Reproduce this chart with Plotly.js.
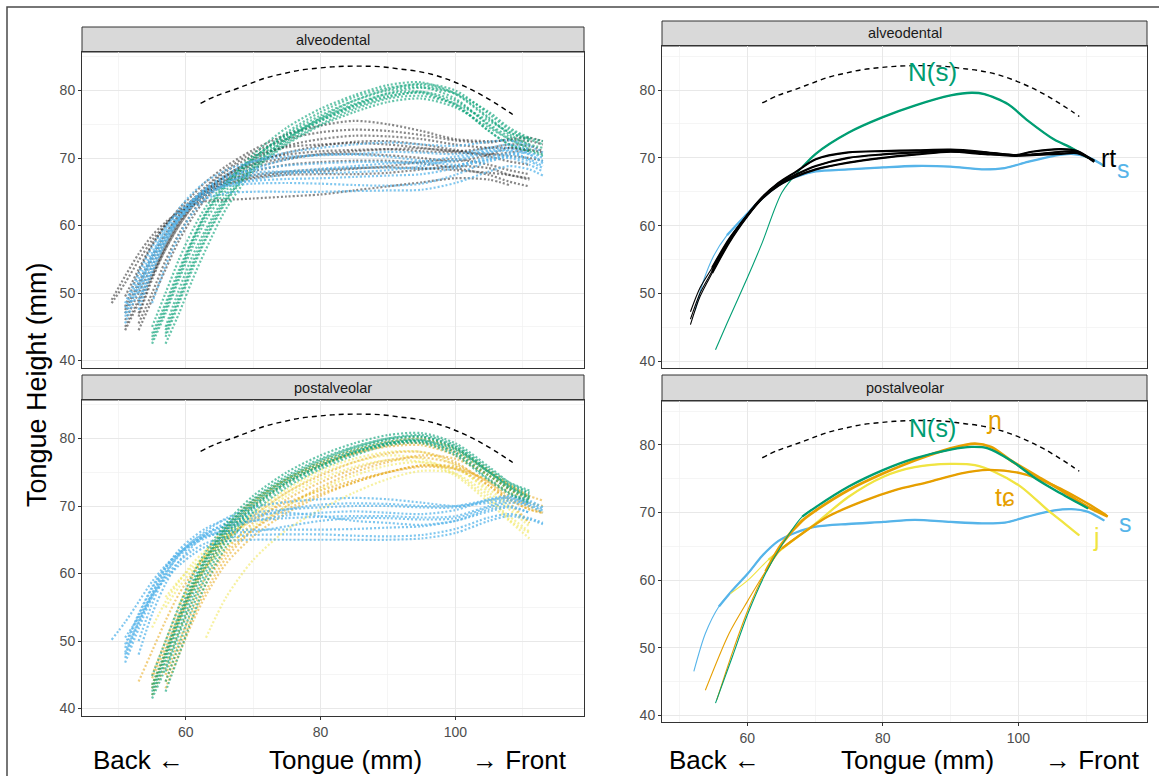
<!DOCTYPE html>
<html>
<head>
<meta charset="utf-8">
<script src="https://cdn.plot.ly/plotly-3.0.1.min.js"></script>
<style>html,body{margin:0;padding:0;background:#fff;}#chart{width:1159px;height:776px;}</style>
</head>
<body>
<div id="chart"></div>
<script>
// ---------- DATA ----------
// shared x grid (mm) for the individual token curves (left panels)
const X_TOK = [49, 51, 53, 55, 57, 59, 61, 63, 66, 70, 75, 80, 85, 90, 95, 100, 105, 108, 111, 113];

// alveodental tokens: rt (black)
const AD_RT_TOK = [
  [49.0, 52.5, 55.8, 58.5, 60.5, 62.0, 63.0, 63.6, 63.8, 64.0, 64.3, 64.6, 65.2, 65.8, 66.4, 67.0, 66.8, 66.0, null, null],
  [null, 47.5, 51.5, 55.5, 58.8, 61.5, 63.5, 65.0, 66.5, 67.5, 68.0, 68.3, 68.5, 68.6, 68.5, 68.2, 67.8, 67.5, 66.8, null],
  [null, 44.5, 48.5, 52.5, 56.5, 60.0, 62.8, 65.0, 67.5, 69.5, 70.5, 71.0, 71.2, 71.3, 71.0, 70.8, 70.6, 70.3, 70.0, 69.6],
  [null, null, 45.5, 50.0, 54.8, 58.8, 62.0, 64.5, 67.3, 69.8, 71.8, 72.8, 73.3, 73.2, 72.8, 72.0, 71.5, 71.5, 71.0, null],
  [null, 48.0, 53.0, 57.0, 60.0, 62.5, 64.5, 66.5, 68.8, 71.2, 73.5, 74.8, 75.5, 75.0, 74.0, 72.8, 72.5, 72.6, 72.5, 72.0],
  [48.5, 51.5, 54.8, 57.8, 60.2, 62.0, 63.5, 64.8, 66.2, 67.2, 67.8, 68.0, 68.4, 68.8, 69.4, 69.8, 69.0, 68.2, 67.6, null],
  [null, 45.0, 49.0, 53.0, 57.0, 60.5, 63.3, 65.5, 68.0, 70.3, 71.6, 72.0, 72.2, 72.0, 71.5, 71.0, 71.5, 72.0, 71.8, 71.0],
  [null, null, 44.5, 49.0, 53.5, 57.8, 61.2, 64.0, 66.8, 69.0, 70.0, 70.5, 70.6, 70.4, 70.0, 69.5, 70.5, 71.5, 71.2, null],
  [null, 49.5, 53.5, 57.2, 60.0, 62.2, 63.8, 65.2, 66.8, 68.5, 69.8, 70.6, 71.0, 71.3, 71.4, 71.0, 70.2, 69.5, 69.0, null],
  [null, null, 46.5, 52.0, 56.5, 60.0, 62.8, 64.5, 66.0, 67.0, 67.5, 67.6, 67.6, 67.8, 68.3, 68.8, 68.5, 67.5, 67.0, null],
  [null, 47.0, 51.0, 55.0, 58.5, 61.5, 63.8, 65.8, 68.3, 70.8, 72.8, 73.8, 74.2, 74.0, 73.4, 72.6, 72.3, 72.8, 73.0, 72.5],
  [null, null, 47.0, 52.5, 57.0, 60.5, 63.0, 64.8, 66.5, 68.0, 69.0, 69.4, 69.6, 69.6, 69.2, 68.5, 67.5, 66.5, 65.8, null],
  [null, 46.0, 50.0, 54.0, 57.8, 61.0, 63.5, 65.3, 67.3, 69.2, 70.8, 71.8, 72.4, 72.5, 72.0, 71.2, 70.5, 70.8, 71.2, 70.8]
];
// alveodental tokens: N(s) (green)
const AD_N_TOK = [
  [null, null, null, 42.5, 47.0, 52.0, 56.8, 60.8, 65.2, 69.5, 73.0, 75.5, 77.5, 79.0, 79.8, 78.5, 75.0, 73.2, 72.0, 71.5],
  [null, null, null, null, 43.5, 48.5, 53.5, 58.0, 63.5, 68.5, 72.5, 75.5, 77.8, 79.6, 80.4, 79.5, 76.0, 73.5, 72.0, null],
  [null, null, null, 44.0, 48.5, 53.5, 58.0, 62.0, 66.3, 70.5, 74.5, 77.3, 79.3, 80.8, 81.2, 79.5, 75.8, 73.8, 72.8, null],
  [null, null, null, null, 42.5, 47.0, 52.0, 56.5, 62.5, 68.0, 72.0, 74.8, 76.8, 78.3, 78.8, 77.5, 74.5, 72.8, 71.5, null],
  [null, null, null, 45.0, 50.0, 55.0, 59.3, 62.8, 66.5, 70.0, 73.5, 76.3, 78.5, 80.0, 80.5, 78.8, 74.8, 72.8, 71.3, 70.5],
  [null, null, null, null, 45.0, 50.5, 55.5, 59.5, 64.5, 69.0, 72.8, 75.8, 78.0, 79.5, 79.8, 78.0, 74.0, 72.0, 71.0, null],
  [null, null, null, 43.0, 47.5, 52.5, 57.5, 61.5, 65.8, 69.8, 73.8, 76.8, 79.0, 80.4, 80.8, 79.6, 76.8, 74.5, 73.0, 72.5],
  [null, null, null, null, 44.5, 49.5, 54.5, 59.0, 64.0, 68.3, 72.2, 75.0, 77.2, 78.8, 79.2, 78.0, 75.5, 73.8, 72.5, null],
  [null, null, null, 43.5, 48.0, 53.0, 57.8, 61.8, 66.0, 70.0, 73.3, 75.8, 77.8, 79.2, 79.6, 77.8, 74.0, 72.0, 71.0, 70.3],
  [null, null, null, null, 44.0, 49.0, 54.0, 58.3, 63.8, 68.8, 72.8, 76.0, 78.5, 80.2, 81.0, 80.0, 76.5, 74.2, 72.8, 72.0]
];
// alveodental tokens: s (blue)
const AD_S_TOK = [
  [null, 47.0, 51.5, 55.5, 58.6, 61.0, 62.8, 64.0, 64.8, 65.0, 65.0, 65.0, 65.1, 65.2, 65.3, 66.3, 68.0, 68.8, 68.3, 67.4],
  [null, 48.5, 53.0, 56.8, 59.8, 62.0, 63.7, 65.0, 66.0, 66.6, 66.9, 67.0, 67.2, 67.4, 67.6, 68.5, 69.8, 70.2, 69.5, 68.5],
  [null, null, 50.0, 54.5, 58.3, 61.2, 63.5, 65.3, 67.0, 68.2, 68.9, 69.2, 69.4, 69.4, 69.2, 69.6, 70.8, 71.2, 70.5, 69.5],
  [null, 45.5, 50.5, 55.5, 59.5, 62.5, 64.8, 66.5, 68.2, 69.5, 70.2, 70.4, 70.6, 70.9, 70.8, 70.6, 71.5, 72.0, 71.2, null],
  [null, null, 47.5, 53.0, 57.5, 61.0, 63.5, 65.5, 67.5, 69.5, 70.8, 71.5, 72.0, 72.3, 72.0, 71.8, 72.4, 72.6, 71.8, 70.8],
  [null, null, 49.0, 54.0, 58.0, 61.0, 63.2, 64.8, 66.0, 66.8, 67.6, 68.2, 68.5, 68.6, 68.4, 68.8, 70.2, 70.6, 69.8, 68.8],
  [null, 46.5, 51.0, 55.0, 58.5, 61.5, 63.8, 65.5, 67.2, 68.4, 69.8, 70.5, 70.5, 70.2, 69.6, 69.0, 69.8, 70.5, 70.8, 70.0],
  [null, null, null, 48.5, 54.0, 58.5, 61.8, 64.0, 66.3, 67.8, 68.0, 67.8, 67.9, 68.2, 68.8, 69.8, 71.0, 71.0, 69.8, null],
  [null, 47.8, 52.2, 56.0, 59.2, 61.8, 63.8, 65.2, 66.5, 67.4, 68.0, 68.4, 68.8, 69.2, 69.5, 70.2, 71.2, 71.5, 70.6, 69.2],
  [null, null, 48.5, 53.5, 57.5, 60.8, 63.0, 64.6, 65.8, 66.2, 66.3, 66.2, 66.0, 65.9, 66.2, 67.5, 69.5, 70.0, 69.0, 68.0]
];
// postalveolar tokens: s (blue)
const PA_S_TOK = [
  [null, 50.5, 53.5, 56.8, 59.2, 61.2, 62.8, 64.0, 64.8, 65.0, 65.0, 65.0, 65.0, 65.0, 65.2, 66.0, 67.8, 68.5, 68.0, 67.3],
  [null, 48.0, 53.0, 57.0, 60.3, 62.8, 64.5, 65.6, 66.3, 66.5, 66.5, 66.5, 66.6, 66.8, 67.0, 67.8, 69.5, 70.0, 69.0, null],
  [50.2, 52.8, 55.8, 58.8, 61.2, 63.0, 64.5, 65.8, 67.0, 67.8, 68.2, 68.4, 68.5, 68.5, 68.3, 68.5, 70.0, 70.8, 70.2, 69.3],
  [null, 47.5, 52.5, 57.0, 60.8, 63.5, 65.3, 66.7, 68.0, 69.0, 69.5, 69.8, 70.0, 70.0, 69.8, 69.8, 70.8, 71.3, 70.5, 69.5],
  [null, null, 50.0, 55.5, 59.8, 62.8, 64.8, 66.3, 68.2, 69.8, 70.6, 71.0, 71.2, 71.0, 70.5, 70.0, 70.5, 71.0, 70.2, null],
  [null, 49.0, 53.8, 57.8, 60.8, 63.0, 64.5, 65.5, 66.0, 66.2, 67.0, 67.8, 68.2, 68.2, 68.0, 68.2, 69.8, 70.5, 70.0, 69.0],
  [null, 46.8, 51.8, 56.5, 60.0, 62.6, 64.2, 65.3, 66.6, 67.8, 68.6, 69.0, 69.2, 69.0, 68.8, 69.4, 71.0, 71.5, 70.8, 69.8],
  [null, null, 48.0, 54.0, 58.5, 61.8, 64.0, 65.8, 67.5, 68.6, 69.0, 68.5, 67.8, 67.5, 67.2, 67.8, 69.2, 69.8, 69.0, null],
  [null, 49.5, 54.0, 58.0, 61.0, 63.2, 64.8, 66.0, 67.2, 68.2, 69.5, 70.2, 70.4, 70.3, 70.0, 70.0, 70.9, 71.2, 70.4, null],
  [null, 48.3, 52.8, 56.5, 59.5, 61.8, 63.4, 64.5, 65.3, 65.7, 65.8, 65.8, 65.6, 65.5, 65.7, 66.6, 68.3, 68.8, 68.2, 67.5]
];
// postalveolar tokens: N(s) (green)
const PA_N_TOK = [
  [null, null, null, 42.0, 47.0, 52.5, 57.5, 61.5, 66.2, 70.3, 73.8, 76.3, 78.2, 79.5, 79.8, 78.0, 74.5, 72.5, 71.0, null],
  [null, null, null, 43.5, 48.5, 54.0, 58.8, 62.5, 67.0, 71.0, 74.5, 77.0, 78.8, 80.0, 80.3, 78.8, 75.2, 73.0, 71.5, null],
  [null, null, null, null, 44.0, 49.5, 55.0, 59.5, 64.8, 69.5, 73.2, 75.8, 77.8, 79.2, 79.6, 78.3, 75.0, 73.2, 71.8, null],
  [null, null, null, 44.8, 50.0, 55.2, 59.8, 63.3, 67.5, 71.5, 75.0, 77.5, 79.3, 80.5, 80.8, 79.3, 75.8, 73.5, 72.0, null],
  [null, null, null, null, 42.5, 48.0, 53.5, 58.5, 64.0, 69.0, 72.8, 75.5, 77.5, 79.0, 79.3, 77.5, 73.8, 71.8, 70.5, null],
  [null, null, null, 41.5, 46.0, 51.5, 56.8, 61.0, 65.8, 70.0, 73.5, 76.0, 78.0, 79.3, 79.5, 77.8, 74.0, 72.0, 70.8, null],
  [null, null, null, 43.0, 48.0, 53.5, 58.3, 62.2, 66.8, 70.8, 74.2, 76.8, 78.7, 80.0, 80.5, 79.0, 75.5, 73.5, 72.3, null],
  [null, null, null, null, 45.5, 51.0, 56.0, 60.3, 65.3, 69.8, 73.5, 76.0, 78.0, 79.3, 79.8, 78.5, 75.0, 72.8, 71.2, null],
  [null, null, null, 42.5, 47.5, 53.0, 58.0, 62.0, 66.5, 70.5, 74.0, 76.6, 78.5, 79.8, 80.2, 78.6, 75.0, 72.8, 71.3, null]
];
// postalveolar tokens: ɲ / tɕ (orange)
const PA_O_TOK = [
  [null, null, null, 43.0, 48.0, 53.3, 58.0, 62.0, 66.5, 70.5, 74.0, 76.5, 78.3, 79.5, 80.0, 78.5, 75.3, 73.2, 71.5, 70.8],
  [null, null, null, 45.0, 50.0, 55.0, 59.5, 63.0, 67.0, 70.8, 74.0, 76.2, 77.8, 78.8, 79.0, 77.5, 74.5, 72.5, 71.0, null],
  [null, null, 44.0, 48.5, 53.0, 57.0, 60.0, 62.5, 65.3, 68.0, 70.5, 72.3, 73.8, 75.0, 75.8, 75.5, 73.8, 72.0, 70.0, 69.0],
  [null, null, null, 42.0, 46.5, 51.5, 55.8, 59.5, 63.5, 67.5, 71.0, 73.5, 75.5, 76.8, 77.2, 76.2, 73.5, 71.5, 69.8, null],
  [null, null, null, null, 45.0, 50.0, 54.5, 58.5, 63.0, 66.5, 69.5, 71.8, 73.5, 75.0, 76.0, 75.8, 73.5, 71.0, 69.5, 69.0],
  [null, null, null, 44.5, 49.0, 53.8, 57.8, 61.0, 64.8, 68.5, 72.0, 74.5, 76.5, 77.8, 78.0, 76.5, 73.0, 70.5, 67.5, null],
  [null, null, null, null, 43.0, 48.0, 52.8, 56.8, 61.5, 65.5, 69.0, 71.5, 73.5, 75.0, 76.0, 75.5, 73.0, 71.0, 69.5, 69.0],
  [null, null, null, 43.5, 48.2, 53.0, 57.3, 61.0, 65.8, 70.0, 73.5, 76.0, 77.8, 79.0, 79.3, 78.0, 75.0, 73.0, 71.3, null],
  [null, null, null, null, 44.0, 49.0, 53.5, 57.5, 62.3, 66.5, 70.0, 72.8, 75.0, 76.5, 77.5, 77.0, 74.5, 72.5, 70.5, 70.0]
];
// postalveolar tokens: j (yellow)
const PA_J_TOK = [
  [null, null, null, null, null, null, null, 50.5, 56.5, 62.0, 66.5, 69.5, 72.0, 74.0, 75.2, 74.8, 71.5, 68.0, 66.0, null],
  [null, null, null, null, 56.5, 59.0, 61.0, 62.8, 65.5, 68.5, 72.0, 74.8, 76.5, 77.5, 77.0, 74.8, 71.0, 68.5, 66.2, null],
  [null, null, null, null, 55.0, 58.0, 60.5, 62.5, 65.0, 68.0, 71.5, 74.0, 75.8, 76.8, 76.5, 74.5, 70.5, 67.8, 65.2, null],
  [null, null, null, null, null, 55.5, 58.5, 61.0, 64.0, 67.0, 70.0, 72.5, 74.5, 76.0, 76.5, 75.5, 72.5, 70.0, 67.5, null],
  [null, null, null, 52.0, 55.8, 58.8, 61.5, 63.5, 66.0, 69.0, 72.5, 75.3, 77.0, 78.0, 78.0, 76.0, 72.0, 69.5, 67.0, null]
];

// palate trace (dashed, all panels)
const PAL_X = [62.2, 64.5, 67.1, 69.5, 72.0, 74.5, 76.9, 79.5, 81.8, 84.2, 86.7, 89.2, 91.6, 94.0, 96.5, 99.0, 101.4, 103.8, 106.3, 108.0, 109.0];
const PAL_Y = [78.1, 79.2, 80.1, 81.0, 81.9, 82.5, 83.0, 83.3, 83.5, 83.6, 83.6, 83.5, 83.2, 82.9, 82.4, 81.6, 80.6, 79.4, 77.9, 76.8, 76.1];

// mean curves: alveodental (right top)
const AD_N_X = [55.3, 57.0, 60.0, 62.2, 65.1, 68.1, 70.1, 74.9, 80.0, 84.7, 90.0, 93.1, 95.0, 98.5, 101.4, 105.3, 107.8, 110.3];
const AD_N_Y = [41.7, 45.6, 52.3, 57.5, 64.9, 68.6, 70.6, 73.7, 76.0, 77.7, 79.2, 79.6, 79.4, 77.9, 75.5, 72.7, 71.5, 70.0];
const AD_RT_X = [51.6, 53.0, 54.8, 57.3, 60.0, 62.2, 64.6, 67.1, 70.1, 74.9, 80.0, 85.0, 90.0, 94.6, 99.5, 102.0, 106.3, 108.7, 111.2];
const AD_RT1_Y = [45.4, 49.5, 53.0, 57.5, 61.4, 64.1, 66.3, 67.9, 69.8, 70.8, 71.0, 71.1, 71.2, 70.9, 70.4, 70.9, 71.3, 71.0, 69.5];
const AD_RT2_Y = [46.2, 50.0, 53.3, 57.8, 61.6, 64.2, 66.2, 67.5, 68.8, 70.0, 70.5, 70.8, 71.0, 70.8, 70.4, 70.5, 70.9, 70.9, 69.4];
const AD_RT3_Y = [47.3, 50.8, 53.8, 58.0, 61.5, 64.0, 65.9, 67.2, 68.3, 69.3, 70.0, 70.5, 70.9, 70.6, 70.3, 70.4, 70.6, 70.7, 69.6];
const AD_S_X = [52.3, 53.5, 55.0, 57.0, 60.0, 62.5, 65.0, 67.5, 70.1, 74.9, 80.1, 84.7, 90.0, 94.6, 98.0, 101.4, 105.3, 107.8, 110.3, 112.7];
const AD_S_Y = [47.5, 51.8, 55.5, 58.6, 61.8, 64.3, 66.2, 67.3, 68.0, 68.3, 68.6, 68.8, 68.7, 68.3, 68.5, 69.4, 70.3, 70.6, 70.1, 68.8];

// mean curves: postalveolar (right bottom)
const PA_S_X = [52.1, 53.8, 55.8, 57.8, 60.1, 62.2, 64.6, 67.1, 70.1, 74.9, 80.1, 84.7, 90.0, 94.6, 98.0, 101.4, 105.3, 107.8, 110.3, 112.7];
const PA_S_Y = [46.5, 52.1, 56.1, 58.5, 61.0, 63.6, 65.8, 67.0, 67.9, 68.3, 68.6, 68.9, 68.6, 68.4, 68.5, 69.4, 70.3, 70.5, 70.1, 68.8];
const PA_N_X = [55.3, 57.8, 60.1, 62.7, 65.1, 68.1, 70.1, 74.9, 80.1, 84.7, 90.0, 93.1, 95.5, 98.9, 102.9, 106.3, 110.3];
const PA_N_Y = [41.8, 48.7, 55.1, 61.0, 65.2, 69.4, 70.8, 73.8, 76.3, 78.0, 79.3, 79.7, 79.5, 77.7, 74.8, 72.8, 70.6];
const PA_NY_X = [55.5, 57.8, 60.1, 62.7, 65.1, 68.1, 70.1, 74.9, 80.1, 84.7, 90.0, 93.6, 96.0, 98.9, 102.9, 106.3, 110.3, 113.2];
const PA_NY_Y = [42.3, 49.3, 55.6, 61.3, 65.4, 68.8, 70.3, 73.3, 75.8, 77.7, 79.5, 80.2, 79.7, 77.7, 75.3, 73.3, 70.8, 69.4];
const PA_TC_X = [53.8, 57.3, 60.1, 62.2, 65.1, 68.1, 71.9, 76.9, 81.8, 86.7, 91.6, 95.5, 100.4, 105.3, 110.3, 113.0];
const PA_TC_Y = [43.7, 52.1, 57.0, 60.5, 64.7, 66.9, 69.4, 71.6, 73.3, 74.5, 75.8, 76.3, 75.8, 74.0, 71.3, 69.6];
const PA_J_X = [57.5, 60.1, 63.1, 66.1, 70.1, 74.9, 80.1, 84.7, 90.0, 93.6, 96.5, 100.4, 104.4, 106.8, 109.0];
const PA_J_Y = [58.0, 60.0, 63.0, 65.4, 68.4, 72.3, 75.3, 76.7, 77.2, 77.0, 76.0, 73.8, 70.3, 68.4, 66.6];

// curve labels
const AD_LABELS = ['N(s)', 'rt', 's'];
const AD_LAB_X = [87.3, 113.3, 115.6];
const AD_LAB_Y = [82.6, 70.0, 68.3];
const PA_LABELS = ['N(s)', 'ɲ', 'tɕ', 'j', 's'];
const PA_LAB_X = [87.3, 96.4, 97.9, 111.6, 115.8];
const PA_LAB_Y = [82.5, 83.7, 72.3, 66.4, 68.4];

const FACETS = ['alveodental', 'postalveolar'];

// ---------- STYLE ----------
const W = 1159, H = 776;
const px = v => v / W;
const py = v => 1 - v / H;
const C = {black: '#000000', blue: '#56B4E9', green: '#009E73', orange: '#E69F00', yellow: '#F0E442'};
const FONT = 'Liberation Sans, Arial, Helvetica, DejaVu Sans, sans-serif';

const traces = [];
function tokens(rows, color, xa, ya) {
  rows.forEach(r => traces.push({
    x: X_TOK, y: r, xaxis: xa, yaxis: ya, mode: 'lines', hoverinfo: 'skip', showlegend: false,
    line: {shape: 'spline', smoothing: 0.8, dash: '2px,2px', width: 2.2, color: color}
  }));
}
function mean(xs, ys, color, k, xa, ya, wThick) {
  traces.push({x: xs, y: ys, xaxis: xa, yaxis: ya, mode: 'lines', hoverinfo: 'skip', showlegend: false,
    line: {shape: 'spline', smoothing: 0.8, width: 1.1, color: color}});
  traces.push({x: xs.slice(k), y: ys.slice(k), xaxis: xa, yaxis: ya, mode: 'lines', hoverinfo: 'skip', showlegend: false,
    line: {shape: 'spline', smoothing: 0.8, width: wThick || 2.3, color: color}});
}
function palate(xa, ya) {
  traces.push({x: PAL_X, y: PAL_Y, xaxis: xa, yaxis: ya, mode: 'lines', hoverinfo: 'skip', showlegend: false,
    line: {shape: 'spline', dash: '5px,4px', width: 1.4, color: '#000'}});
}

// top-left
tokens(AD_RT_TOK, 'rgba(20,20,20,0.5)', 'x', 'y');
tokens(AD_N_TOK, 'rgba(0,158,115,0.6)', 'x', 'y');
tokens(AD_S_TOK, 'rgba(86,180,233,0.75)', 'x', 'y');
palate('x', 'y');
// bottom-left
tokens(PA_J_TOK, 'rgba(240,228,66,0.5)', 'x3', 'y3');
tokens(PA_O_TOK, 'rgba(230,159,0,0.5)', 'x3', 'y3');
tokens(PA_S_TOK, 'rgba(86,180,233,0.75)', 'x3', 'y3');
tokens(PA_N_TOK, 'rgba(0,158,115,0.6)', 'x3', 'y3');
palate('x3', 'y3');
// top-right
mean(AD_S_X, AD_S_Y, C.blue, 3, 'x2', 'y2');
mean(AD_N_X, AD_N_Y, C.green, 5, 'x2', 'y2');
mean(AD_RT_X, AD_RT1_Y, C.black, 2, 'x2', 'y2', 2.2);
mean(AD_RT_X, AD_RT2_Y, C.black, 2, 'x2', 'y2', 2.2);
mean(AD_RT_X, AD_RT3_Y, C.black, 2, 'x2', 'y2', 2.2);
palate('x2', 'y2');
// bottom-right
mean(PA_S_X, PA_S_Y, C.blue, 2, 'x4', 'y4');
mean(PA_J_X, PA_J_Y, C.yellow, 2, 'x4', 'y4');
mean(PA_TC_X, PA_TC_Y, C.orange, 4, 'x4', 'y4');
mean(PA_NY_X, PA_NY_Y, C.orange, 3, 'x4', 'y4', 2.8);
mean(PA_N_X, PA_N_Y, C.green, 5, 'x4', 'y4');
palate('x4', 'y4');

const grid = {showgrid: true, gridcolor: '#e8e8e8', gridwidth: 1, zeroline: false,
  showline: true, mirror: true, linecolor: '#333333', linewidth: 1,
  tickfont: {family: FONT, size: 14, color: '#4d4d4d'}, tickcolor: '#333333', ticklen: 3, tickwidth: 1};
function xax(domain, range, anchor, labels) {
  return Object.assign({}, grid, {domain: domain, range: range, anchor: anchor, tick0: 0, dtick: 20,
    ticks: labels ? 'outside' : '', showticklabels: labels,
    minor: {dtick: 10, tick0: 0, showgrid: true, gridcolor: '#f1f1f1', gridwidth: 0.7, ticks: ''}});
}
function yax(domain, range, anchor) {
  return Object.assign({}, grid, {domain: domain, range: range, anchor: anchor, tick0: 0, dtick: 10,
    ticks: 'outside', showticklabels: true,
    minor: {dtick: 5, tick0: 0, showgrid: true, gridcolor: '#f1f1f1', gridwidth: 0.7, ticks: ''}});
}
const LX = [px(82), px(584)], RX = [px(662), px(1147)];
const LXR = [44.6, 119.1], RXR = [47.4, 119.0];
const LYR = [38.9, 85.7], RYR = [39.0, 86.5];

const shapes = [];
const annotations = [];
function strip(x0, x1, y0, y1, text) {
  shapes.push({type: 'rect', xref: 'paper', yref: 'paper', x0: px(x0), x1: px(x1), y0: py(y1), y1: py(y0),
    fillcolor: '#d9d9d9', line: {color: '#333333', width: 1}, layer: 'below'});
  annotations.push({xref: 'paper', yref: 'paper', x: px((x0 + x1) / 2), y: py((y0 + y1) / 2), text: text,
    showarrow: false, xanchor: 'center', yanchor: 'middle', font: {family: FONT, size: 14.5, color: '#1a1a1a'}});
}
strip(82, 584, 27, 52, FACETS[0]);
strip(82, 584, 375, 400, FACETS[1]);
strip(662, 1147, 21, 46, FACETS[0]);
strip(662, 1147, 375, 401, FACETS[1]);
// outer frame
shapes.push({type: 'rect', xref: 'paper', yref: 'paper', x0: px(7), x1: px(1180), y0: py(800), y1: py(7),
  line: {color: '#4a4a4a', width: 1.5}, fillcolor: 'rgba(0,0,0,0)'});

function txt(x, y, t, size, opts) {
  annotations.push(Object.assign({xref: 'paper', yref: 'paper', x: px(x), y: py(y), text: t, showarrow: false,
    xanchor: 'center', yanchor: 'middle', borderpad: 0, font: {family: FONT, size: size, color: '#000'}}, opts || {}));
}
txt(37, 385, 'Tongue Height (mm)', 27, {textangle: -90});
[[138, 'Back ←'], [345, 'Tongue (mm)'], [519, '→ Front'], [714, 'Back ←'], [917, 'Tongue (mm)'], [1092, '→ Front']]
  .forEach(a => txt(a[0], 760, a[1], 26));

const AD_LAB_C = [C.green, C.black, C.blue];
const PA_LAB_C = [C.green, C.orange, C.orange, C.yellow, C.blue];
AD_LABELS.forEach((t, i) => annotations.push({xref: 'x2', yref: 'y2', x: AD_LAB_X[i], y: AD_LAB_Y[i], text: t,
  showarrow: false, font: {family: FONT, size: i === 0 ? 26 : 25, color: AD_LAB_C[i]}}));
PA_LABELS.forEach((t, i) => annotations.push({xref: 'x4', yref: 'y4', x: PA_LAB_X[i], y: PA_LAB_Y[i], text: t,
  showarrow: false, font: {family: FONT, size: 25, color: PA_LAB_C[i]}}));

const layout = {
  width: W, height: H, margin: {l: 0, r: 0, t: 0, b: 0},
  paper_bgcolor: '#ffffff', plot_bgcolor: '#ffffff', showlegend: false,
  xaxis: xax(LX, LXR, 'y', false),
  yaxis: yax([py(368), py(52)], LYR, 'x'),
  xaxis2: xax(RX, RXR, 'y2', false),
  yaxis2: yax([py(368), py(46)], RYR, 'x2'),
  xaxis3: xax(LX, LXR, 'y3', true),
  yaxis3: yax([py(716), py(400)], LYR, 'x3'),
  xaxis4: xax(RX, RXR, 'y4', true),
  yaxis4: yax([py(722), py(401)], RYR, 'x4'),
  shapes: shapes, annotations: annotations
};
Plotly.newPlot('chart', traces, layout, {displayModeBar: false, staticPlot: true});
</script>
</body>
</html>
